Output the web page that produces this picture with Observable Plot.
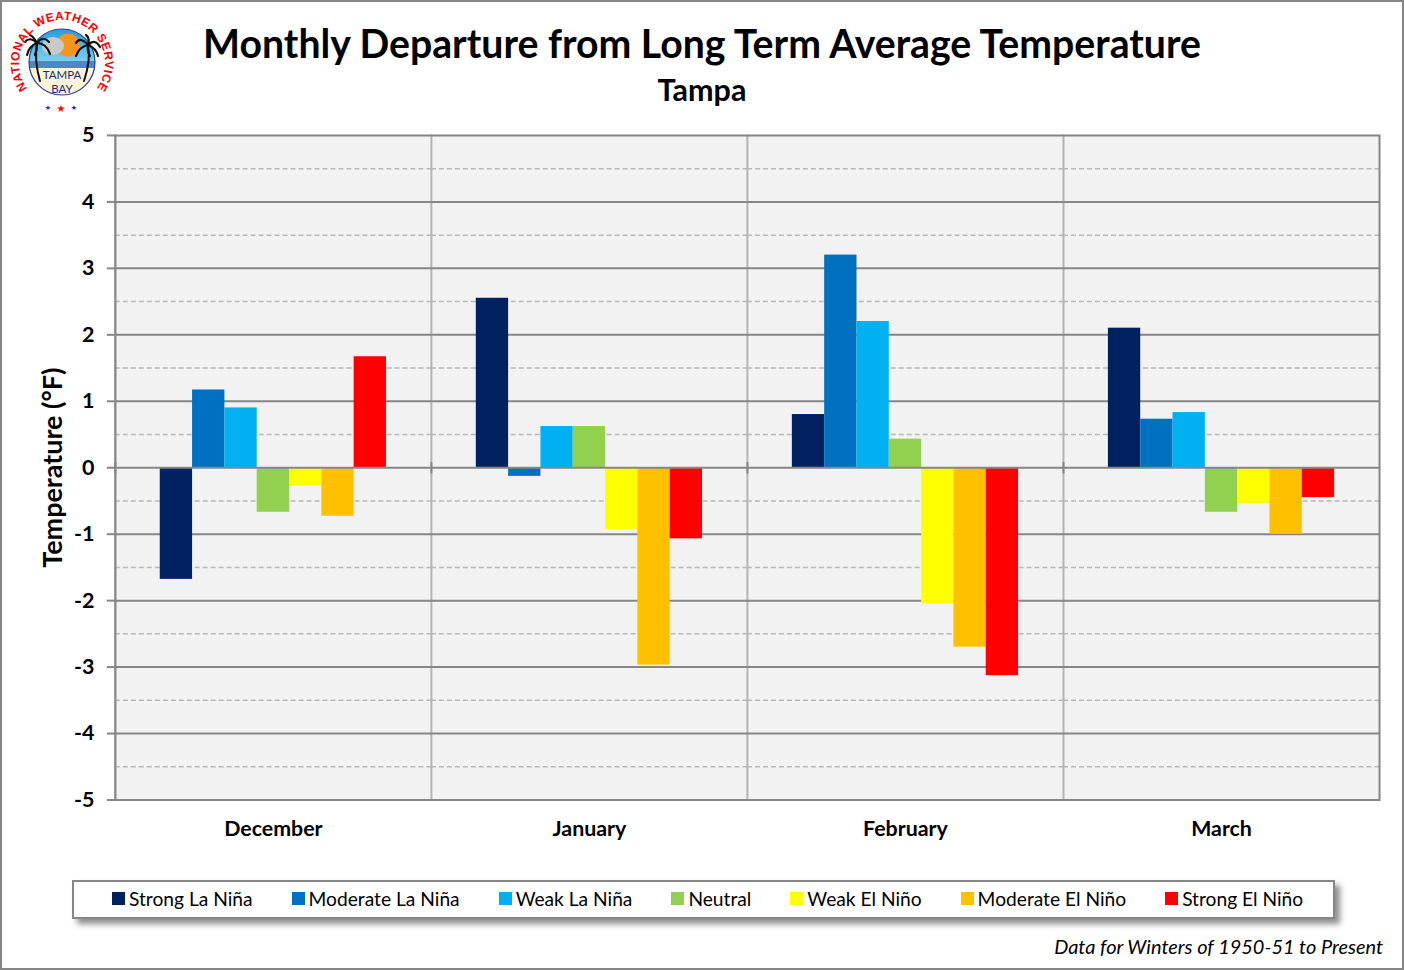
<!DOCTYPE html>
<html><head><meta charset="utf-8">
<script src="https://cdn.jsdelivr.net/npm/d3@7"></script>
<script src="https://cdn.jsdelivr.net/npm/@observablehq/plot@0.6"></script>
<style>
html,body{margin:0;padding:0;background:#fff;overflow:hidden}
#page{position:relative;width:1404px;height:970px;box-sizing:border-box;border:2px solid #868686;font-family:Lato,sans-serif;color:#000;overflow:hidden}
#logo{position:absolute;left:-2px;top:-2px}
#title{position:absolute;left:0;width:1400px;top:17px;text-align:center;font-size:39.2px;font-weight:700;line-height:48px;white-space:nowrap}
#subtitle{position:absolute;left:0;width:1400px;top:69px;text-align:center;font-size:30.5px;font-weight:700;line-height:36px}
#chart{position:absolute;left:-2px;top:104px}
#legend{position:absolute;left:70px;top:878px;width:1263px;height:39px;box-sizing:border-box;border:2px solid #868686;background:#fff;box-shadow:5px 5px 6px rgba(0,0,0,.45);display:flex;align-items:center;padding:0 0 2px 38px;gap:39px;font-size:19.2px}
.item{display:flex;align-items:center;gap:4px;white-space:nowrap}
.sw{width:13px;height:13px;display:inline-block}
#note{position:absolute;right:19px;top:932px;font-size:19.95px;font-style:italic;line-height:24px}
</style></head>
<body>
<div id="page">
<svg id="logo" width="124" height="124" viewBox="0 0 124 124">
  <defs>
    <path id="ring" d="M 37 98 A 43 43 0 1 1 87 98" fill="none"/>
    <linearGradient id="sky" x1="0" y1="0" x2="0" y2="1"><stop offset="0" stop-color="#1f9fe0"/><stop offset="1" stop-color="#7fd0ee"/></linearGradient>
    <clipPath id="disc"><circle cx="62" cy="62" r="33"/></clipPath>
  </defs>
  <g clip-path="url(#disc)">
    <rect x="29" y="29" width="66" height="33" fill="url(#sky)"/>
    <circle cx="68" cy="45" r="11.5" fill="#f7941d"/>
    <ellipse cx="53" cy="46" rx="11" ry="9" fill="#c9c9c9"/>
    <rect x="29" y="61" width="66" height="7" fill="#4f86c6"/>
    <rect x="29" y="68" width="66" height="27" fill="#fdf3d8"/>
  </g>
  <circle cx="62" cy="62" r="33" fill="none" stroke="#2b3f9e" stroke-width="1.2"/>
  <g fill="none" stroke="#111" stroke-linecap="round">
    <path d="M40 81 Q34 60 37 43" stroke-width="2"/>
    <path d="M84 81 Q91 60 88 45" stroke-width="2"/>
    <g stroke-width="2.2">
      <path d="M37 43 Q30 36 25 42"/><path d="M37 43 Q33 36 30 35"/><path d="M37 43 Q43 35 49 42"/>
      <path d="M37 43 Q46 43 50 54"/><path d="M37 43 Q29 46 27 55"/><path d="M37 43 Q37 50 35 55"/>
      <path d="M88 45 Q80 36 76 43"/><path d="M88 45 Q90 38 86 35"/><path d="M88 45 Q95 38 100 47"/>
      <path d="M88 45 Q79 47 76 56"/><path d="M88 45 Q96 48 98 56"/><path d="M88 45 Q87 52 90 56"/>
    </g>
  </g>
  <text x="62" y="78.5" text-anchor="middle" font-family="Lato" font-size="11.5" fill="#1c2a7a">TAMPA</text>
  <text x="62" y="92.5" text-anchor="middle" font-family="Lato" font-size="11.5" fill="#1c2a7a">BAY</text>
  <text font-family="'Liberation Sans'" font-weight="700" font-size="12" fill="#f00" letter-spacing="0.4"><textPath href="#ring" startOffset="50%" text-anchor="middle">NATIONAL WEATHER SERVICE</textPath></text>
  <g font-family="'DejaVu Sans'" text-anchor="middle">
    <text x="48" y="110" font-size="7" fill="#1a1acc">★</text>
    <text x="61" y="112" font-size="10" fill="#f00">★</text>
    <text x="74" y="110" font-size="7" fill="#1a1acc">★</text>
  </g>
</svg>
<div id="title">Monthly Departure from Long Term Average Temperature</div>
<div id="subtitle">Tampa</div>
<div id="chart"></div>
<div id="legend"></div>
<div id="note">Data for Winters of 1950-51 to Present</div>
</div>
<script>
const months = ["December", "January", "February", "March"];
const phases = ["Strong La Niña", "Moderate La Niña", "Weak La Niña", "Neutral", "Weak El Niño", "Moderate El Niño", "Strong El Niño"];
const phaseColors = ["#002060", "#0070c0", "#00b0f0", "#92d050", "#ffff00", "#ffc000", "#ff0000"];
const december = [-1.68, 1.17, 0.90, -0.67, -0.27, -0.73, 1.67];
const january = [2.55, -0.13, 0.62, 0.62, -0.93, -2.97, -1.07];
const february = [0.80, 3.20, 2.20, 0.43, -2.05, -2.70, -3.13];
const march = [2.10, 0.73, 0.83, -0.67, -0.54, -1.00, -0.45];
const majorTicks = [-5, -4, -3, -2, -1, 0, 1, 2, 3, 4, 5];
const minorTicks = [-4.5, -3.5, -2.5, -1.5, -0.5, 0.5, 1.5, 2.5, 3.5, 4.5];

const series = [december, january, february, march];
const rows = months.flatMap((m, i) => phases.map((p, j) => ({month: m, phase: p, value: series[i][j]})));
const axisGray = "#868686", sepGray = "#b4b4b4";

const plot = Plot.plot({
  width: 1404, height: 732,
  marginLeft: 115, marginRight: 23, marginTop: 29, marginBottom: 37.5,
  style: {background: "transparent", fontFamily: "Lato, sans-serif", color: "#000", overflow: "visible"},
  fx: {domain: months, padding: 0, round: false, label: null, axis: null},
  x: {domain: phases, paddingInner: 0, paddingOuter: 1.39, round: false, axis: null},
  y: {domain: [-5, 5], axis: null},
  color: {domain: phases, range: phaseColors},
  marks: [
    Plot.frame({fill: "#f2f2f2", stroke: "none"}),
    Plot.ruleY(minorTicks, {stroke: "#b7b7b7", strokeWidth: 1.5, strokeDasharray: "5,3"}),
    Plot.frame({anchor: "left", stroke: sepGray, strokeWidth: 2}),
    Plot.ruleY(majorTicks.filter(d => d !== 0), {stroke: axisGray, strokeWidth: 2}),
    Plot.barY(rows, {fx: "month", x: "phase", y: "value", fill: "phase", inset: 0}),
    Plot.ruleY([0], {stroke: axisGray, strokeWidth: 2}),
    Plot.vector([0], {y: d => d, frameAnchor: "left", length: 10, anchor: "middle", stroke: axisGray, strokeWidth: 2,
      shape: {draw(c, l) { c.moveTo(0, 0); c.lineTo(0, -l); }}}),
    Plot.frame({anchor: "left", stroke: axisGray, strokeWidth: 2, fx: [months[0]]}),
    Plot.frame({anchor: "right", stroke: axisGray, strokeWidth: 2, fx: [months[3]]}),
    Plot.axisY({ticks: majorTicks, tickFormat: d => String(d), tickSize: 8, tickPadding: 13, stroke: axisGray, strokeWidth: 2, fontSize: 21.5, fontWeight: 700, label: null}),
    Plot.axisY({ticks: [], label: "Temperature (°F)", labelAnchor: "center", labelArrow: "none", labelOffset: 73, fontSize: 27, fontWeight: 700, tickSize: 0}),
    Plot.axisFx({anchor: "bottom", label: null, tickSize: 0, tickPadding: 21, fontSize: 21.4, fontWeight: 700})
  ]
});
document.getElementById("chart").append(plot);

d3.select("#legend").selectAll("div").data(phases).join("div").attr("class", "item")
  .html((d, i) => `<span class="sw" style="background:${phaseColors[i]}"></span><span>${d}</span>`);
</script>
</body></html>
